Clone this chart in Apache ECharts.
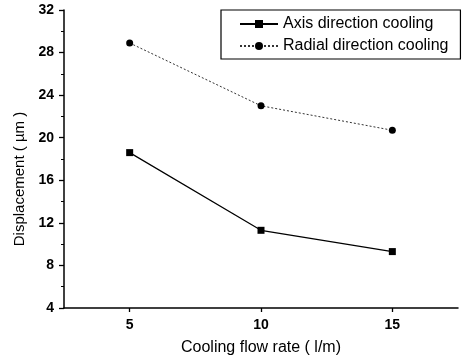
<!DOCTYPE html>
<html>
<head>
<meta charset="utf-8">
<script src="https://cdn.jsdelivr.net/npm/echarts@6/dist/echarts.min.js"></script>
<style>
html,body{margin:0;padding:0;background:#fff;}
#chart{width:463px;height:362px;}
</style>
</head>
<body>
<div id="chart"></div>
<script>
var flowRates = [5, 10, 15];
var axisCooling = [18.6, 11.3, 9.3];
var radialCooling = [28.9, 23.0, 20.7];
var xTicks = [5, 10, 15];
var seriesNames = ['Axis direction cooling', 'Radial direction cooling'];

function pairs(xs, ys) { return xs.map(function (x, i) { return [x, ys[i]]; }); }

var chart = echarts.init(document.getElementById('chart'), null, {renderer: 'canvas'});
var FONT = 'Liberation Sans, Arial, sans-serif';
chart.setOption({
  animation: false,
  backgroundColor: '#fff',
  textStyle: {fontFamily: FONT, color: '#000'},
  grid: {left: 64, top: 10, right: 5, bottom: 54, containLabel: false},
  legend: {
    orient: 'vertical',
    left: 221, top: 10,
    data: seriesNames,
    itemWidth: 38, itemHeight: 10, itemGap: 6,
    padding: [6, 12, 5, 18],
    borderColor: '#000', borderWidth: 1.2, borderRadius: 0,
    textStyle: {fontFamily: FONT, fontSize: 16, color: '#000'}
  },
  xAxis: {
    type: 'value', min: 2.5, max: 17.5,
    name: 'Cooling flow rate ( l/m)', nameLocation: 'middle', nameGap: 32,
    nameTextStyle: {fontFamily: FONT, fontSize: 16, color: '#000'},
    axisLine: {lineStyle: {color: '#000', width: 1.5}},
    axisTick: {customValues: xTicks, length: 4, lineStyle: {color: '#000', width: 1.3}},
    axisLabel: {customValues: xTicks, margin: 10, fontFamily: FONT, fontSize: 14, fontWeight: 'bold', color: '#000'},
    splitLine: {show: false}
  },
  yAxis: {
    type: 'value', min: 4, max: 32, interval: 4,
    name: 'Displacement ( µm )', nameLocation: 'middle', nameGap: 37,
    nameTextStyle: {fontFamily: FONT, fontSize: 15, color: '#000', padding: [0, 40, 0, 0]},
    axisLine: {lineStyle: {color: '#000', width: 1.5}},
    axisTick: {length: 5, lineStyle: {color: '#000', width: 1.3}},
    minorTick: {show: true, splitNumber: 2, length: 3, lineStyle: {color: '#000', width: 1}},
    axisLabel: {margin: 10, fontFamily: FONT, fontSize: 14, fontWeight: 'bold', color: '#000'},
    splitLine: {show: false}
  },
  series: [
    {
      name: seriesNames[0], type: 'line', data: pairs(flowRates, axisCooling),
      symbol: 'rect', symbolSize: 7,
      lineStyle: {color: '#000', width: 1.2, type: 'solid'},
      itemStyle: {color: '#000'}
    },
    {
      name: seriesNames[1], type: 'line', data: pairs(flowRates, radialCooling),
      symbol: 'circle', symbolSize: 7,
      lineStyle: {color: '#333', width: 1, type: [2, 2]},
      itemStyle: {color: '#000'}
    }
  ]
});
</script>
</body>
</html>
